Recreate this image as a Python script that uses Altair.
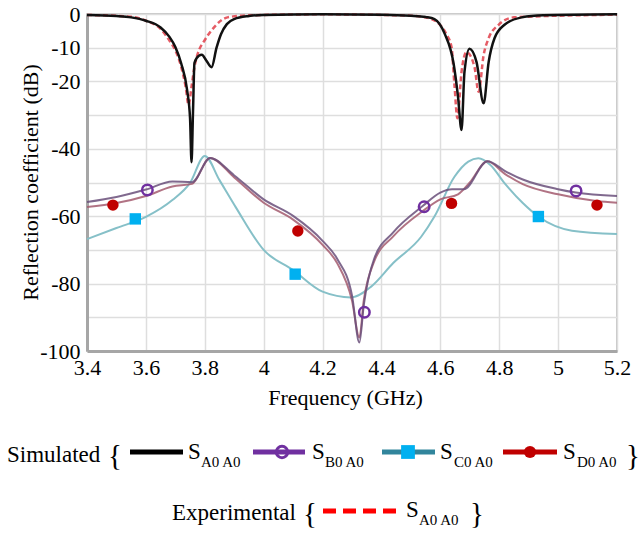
import altair as alt
import pandas as pd

# ---------------- data ----------------
# Simulated S_A0A0 (black)
simA_f = [3.40, 3.50, 3.55, 3.60, 3.65, 3.68, 3.70, 3.72, 3.74, 3.75, 3.755, 3.76, 3.765, 3.78, 3.79,
          3.805, 3.823, 3.84, 3.855, 3.875, 3.90, 3.95, 4.00, 4.20, 4.40, 4.50, 4.55, 4.58, 4.615,
          4.645, 4.66, 4.672, 4.682, 4.699, 4.723, 4.747, 4.764, 4.784, 4.818, 4.876, 4.95, 5.20]
simA_db = [-0.3, -0.6, -1.0, -2.0, -4.0, -6.8, -9.8, -14.7, -22.6, -31.0, -44.0, -29.0, -14.5, -12.4, -12.1,
           -13.8, -15.8, -10.0, -6.0, -3.0, -1.5, -0.6, -0.3, -0.1, -0.2, -0.5, -0.9, -1.5, -5.9,
           -14.7, -24.5, -34.4, -17.2, -10.3, -14.3, -26.5, -14.3, -7.2, -3.2, -1.0, -0.4, -0.1]

# Experimental S_A0A0 (red dashed)
expA_f = [3.40, 3.55, 3.60, 3.65, 3.68, 3.70, 3.72, 3.735, 3.745, 3.755, 3.765, 3.78, 3.796, 3.83,
          3.877, 3.95, 4.20, 4.50, 4.55, 4.59, 4.62, 4.638, 4.648, 4.658, 4.672, 4.689, 4.716, 4.73,
          4.747, 4.764, 4.798, 4.85, 5.20]
expA_db = [-0.3, -0.8, -2.0, -4.4, -7.9, -10.8, -15.7, -21.6, -27.0, -21.6, -15.7, -10.8, -8.3, -4.1,
           -1.0, -0.4, -0.1, -0.5, -1.0, -2.5, -5.9, -9.8, -21.1, -30.9, -17.2, -11.3, -15.7, -23.1,
           -12.2, -7.2, -3.2, -1.0, -0.2]

# Simulated S_B0A0 (purple)
simB_f = [3.40, 3.50, 3.60, 3.69, 3.757, 3.818, 3.90, 4.00, 4.10, 4.20, 4.25, 4.30, 4.325, 4.34,
          4.375, 4.44, 4.54, 4.60, 4.64, 4.68, 4.76, 4.82, 4.88, 5.00, 5.06, 5.20]
simB_db = [-55.8, -54.3, -52.1, -49.7, -49.9, -42.7, -47.9, -55.0, -59.9, -67.3, -72.7, -83.5, -97.5, -86.4,
           -72.7, -64.8, -57.0, -53.0, -52.0, -52.0, -43.7, -46.6, -49.1, -52.0, -53.0, -54.0]

# Simulated S_C0A0 (light teal)
simC_f = [3.40, 3.50, 3.60, 3.69, 3.75, 3.80, 3.85, 3.905, 4.00, 4.10, 4.20, 4.297, 4.365, 4.44,
          4.535, 4.58, 4.648, 4.695, 4.729, 4.77, 4.818, 4.88, 4.933, 5.047, 5.20]
simC_db = [-66.8, -63.5, -60.2, -55.2, -50.1, -42.1, -49.3, -57.3, -70.0, -76.0, -82.4, -84.1, -80.9, -73.9,
           -66.1, -60.1, -48.3, -43.8, -42.8, -44.8, -50.2, -56.1, -60.1, -64.3, -65.3]

# Simulated S_D0A0 (dark red)
simD_f = [3.40, 3.50, 3.60, 3.69, 3.757, 3.818, 3.90, 4.00, 4.10, 4.20, 4.25, 4.30, 4.325, 4.34,
          4.375, 4.44, 4.54, 4.60, 4.66, 4.70, 4.76, 4.82, 4.88, 5.00, 5.13, 5.20]
simD_db = [-57.3, -56.1, -54.0, -51.2, -50.4, -42.7, -48.5, -56.0, -61.0, -68.5, -74.0, -85.0, -96.0, -85.0,
           -73.5, -66.0, -58.5, -55.0, -53.5, -50.0, -43.7, -47.5, -50.5, -53.5, -55.5, -56.0]

# Markers
markB_f = [3.605, 4.342, 4.545, 5.061]
markB_db = [-52.2, -88.5, -57.2, -52.5]
markC_f = [3.564, 4.107, 4.933]
markC_db = [-60.8, -77.2, -60.1]
markD_f = [3.488, 4.116, 4.638, 5.132]
markD_db = [-56.7, -64.4, -56.2, -56.7]

# Axis ticks
x_ticks = [3.4, 3.6, 3.8, 4.0, 4.2, 4.4, 4.6, 4.8, 5.0, 5.2]
y_grid = [-100, -90, -80, -70, -60, -50, -40, -30, -20, -10, 0]
y_labels = [0, -10, -20, -40, -60, -80, -100]

# ---------------- chart ----------------
FONT = "Times New Roman, Liberation Serif, serif"
W, H = 530, 337
L, T = 87, 14

xscale = alt.Scale(domain=[3.4, 5.2], nice=False, zero=False)
yscale = alt.Scale(domain=[-100, 0], nice=False, zero=False)

X = alt.X("f:Q", scale=xscale, axis=alt.Axis(
    values=x_ticks, labelExpr="toString(datum.value)", title="Frequency (GHz)",
    ticks=False, tickSize=0, labelPadding=6, titlePadding=9, titleX=258, titleAnchor="middle",
    grid=True, gridColor="#dedede", gridWidth=1.5, domainColor="#a6a6a6", domainWidth=3,
    labelFont=FONT, labelFontSize=22, labelColor="black", labelFlush=False,
    titleFont=FONT, titleFontSize=22, titleFontWeight="normal", titleColor="black"))
Y = alt.Y("db:Q", scale=yscale, axis=alt.Axis(
    values=y_grid,
    labelExpr=f"indexof({y_labels}, datum.value) >= 0 ? toString(datum.value) : ''",
    title="Reflection coefficient (dB)", ticks=False, tickSize=0, labelPadding=7,
    titleX=-45, titleY=168, titleBaseline="bottom", titleAngle=270, titleAnchor="middle",
    grid=True, gridColor="#dedede", gridWidth=1.5, domainColor="#a6a6a6", domainWidth=3,
    labelFont=FONT, labelFontSize=22, labelColor="black", labelFlush=False,
    titleFont=FONT, titleFontSize=22, titleFontWeight="normal", titleColor="black"))


def series(fs, dbs):
    return pd.DataFrame({"f": fs, "db": dbs})


lineC = alt.Chart(series(simC_f, simC_db)).mark_line(
    color="#86c0c8", strokeWidth=2, interpolate="monotone").encode(x=X, y=Y)
lineD = alt.Chart(series(simD_f, simD_db)).mark_line(
    color="#a35a6e", strokeWidth=2, opacity=0.85, interpolate="monotone").encode(x=X, y=Y)
lineB = alt.Chart(series(simB_f, simB_db)).mark_line(
    color="#6a4f7a", strokeWidth=2, opacity=0.85, interpolate="monotone").encode(x=X, y=Y)
lineE = alt.Chart(series(expA_f, expA_db)).mark_line(
    color="#e0404a", strokeWidth=2.5, strokeDash=[5, 3], opacity=0.85, interpolate="monotone").encode(x=X, y=Y)
lineA = alt.Chart(series(simA_f, simA_db)).mark_line(
    color="#111111", strokeWidth=2.5, interpolate="monotone").encode(x=X, y=Y)

ptsB = alt.Chart(series(markB_f, markB_db)).mark_point(
    shape="circle", filled=False, color="#7030a0", strokeWidth=2.5, size=110, opacity=1).encode(x=X, y=Y)
ptsC = alt.Chart(series(markC_f, markC_db)).mark_square(
    color="#00b0f0", size=130, opacity=1).encode(x=X, y=Y)
ptsD = alt.Chart(series(markD_f, markD_db)).mark_circle(
    color="#c00000", size=130, opacity=1).encode(x=X, y=Y)

# ---------------- custom legend (below the plot) ----------------
one = alt.Data(values=[{"k": 0}])


def txt(s, xa, ya, size, baseline="alphabetic"):
    return alt.Chart(one).mark_text(font=FONT, fontSize=size, align="left", baseline=baseline,
                                    color="black").encode(
        x=alt.value(xa - L), y=alt.value(ya - T), text=alt.value(s))


def seg(x1, x2, ya, color, width, dash=None):
    kw = dict(color=color, strokeWidth=width)
    if dash:
        kw["strokeDash"] = dash
    return alt.Chart(one).mark_rule(**kw).encode(
        x=alt.value(x1 - L), x2=alt.value(x2 - L), y=alt.value(ya - T))


def sym(xa, ya, kind, color, size):
    if kind == "open":
        m = alt.Chart(one).mark_point(shape="circle", filled=False, color=color, strokeWidth=3,
                                      size=size, opacity=1)
    elif kind == "square":
        m = alt.Chart(one).mark_square(color=color, size=size, opacity=1, cornerRadius=2)
    else:
        m = alt.Chart(one).mark_circle(color=color, size=size, opacity=1)
    return m.encode(x=alt.value(xa - L), y=alt.value(ya - T))


r1 = 452   # row 1 line y
b1 = 462   # row 1 text baseline
r2 = 511
b2 = 520

legend = [
    txt("Simulated", 7, b1, 23),
    txt("{", 108, b1 + 3, 29),
    seg(130, 183, r1, "black", 5),
    txt("S", 188, b1 - 3, 23), txt("A0 A0", 201, b1 + 5, 15),
    seg(253, 305, r1, "#7030a0", 5), sym(282, r1, "open", "#7030a0", 130),
    txt("S", 312, b1 - 3, 23), txt("B0 A0", 325, b1 + 5, 15),
    seg(382, 435, r1, "#31859c", 5), sym(408, r1, "square", "#00b0f0", 190),
    txt("S", 440, b1 - 3, 23), txt("C0 A0", 454, b1 + 5, 15),
    seg(503, 557, r1, "#c00000", 5), sym(530, r1, "dot", "#c00000", 150),
    txt("S", 563, b1 - 3, 23), txt("D0 A0", 577, b1 + 5, 15),
    txt("}", 626, b1 + 3, 29),
    txt("Experimental", 172, b2, 23),
    txt("{", 303, b2 + 3, 29),
    seg(323, 397, r2, "#ff0000", 5, dash=[13, 7]),
    txt("S", 406, b2 - 3, 23), txt("A0 A0", 419, b2 + 5, 15),
    txt("}", 470, b2 + 3, 29),
]

chart = alt.layer(
    lineC, lineD, lineB, lineE, lineA, ptsB, ptsC, ptsD, *legend
).properties(
    width=W, height=H,
    padding={"left": L, "top": T, "right": 640 - L - W, "bottom": 533 - T - H},
    autosize=alt.AutoSizeParams(type="none"),
    background="white",
).configure_view(stroke="#b4b4b4", strokeWidth=1.5)

chart.save("out.html", embed_options={"renderer": "svg", "actions": False})
